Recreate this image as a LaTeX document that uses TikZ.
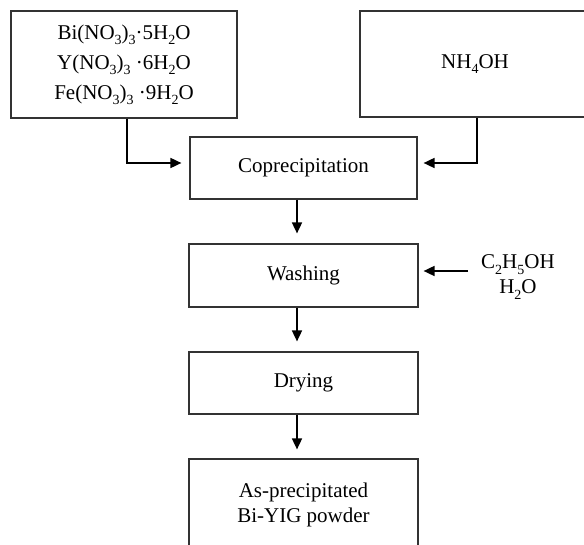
\documentclass[tikz,border=0pt]{standalone}
\usepackage{fontspec}
\setmainfont{Liberation Serif}
\usetikzlibrary{arrows.meta}
\newcommand\sbs[1]{\raisebox{-0.55ex}{\fontsize{14}{14}\selectfont #1}}
\begin{document}
\begin{tikzpicture}[x=1pt,y=-1pt,
 box/.style={draw=black!80, line width=1.2pt, rectangle, inner sep=0pt, align=center, font=\fontsize{21}{30}\selectfont},
 arr/.style={draw=black, line width=1.7pt, -{Triangle[length=11pt,width=10pt]}},
 lbl/.style={inner sep=0pt, align=center, font=\fontsize{21}{25}\selectfont}]
\useasboundingbox (0,0) rectangle (584,545);
\clip (0,0) rectangle (584,545);
\node[box, minimum width=226pt, minimum height=107pt] (A) at (124,64.5)
  {Bi(NO\sbs{3})\sbs{3}·5H\sbs{2}O\\
   Y(NO\sbs{3})\sbs{3} ·6H\sbs{2}O\\
   Fe(NO\sbs{3})\sbs{3} ·9H\sbs{2}O};
\node[box, minimum width=230pt, minimum height=106pt] (B) at (475,64) {NH\sbs{4}OH};
\node[box, minimum width=227pt, minimum height=62pt] (copr) at (303.5,168) {Coprecipitation};
\node[box, minimum width=229pt, minimum height=63pt] (wash) at (303.5,275.5) {Washing};
\node[box, minimum width=229pt, minimum height=62pt] (dry) at (303.5,383) {Drying};
\node[box, minimum width=229pt, minimum height=92pt, font=\fontsize{21}{25}\selectfont] (fin) at (303.5,505) {As-precipitated\\Bi-YIG powder};
\node[lbl, anchor=west] (solv) at (481,277) {C\sbs{2}H\sbs{5}OH\\H\sbs{2}O};
\draw[arr, shorten >=8pt] ([xshift=3pt]A.south) |- ([yshift=5pt]copr.west);
\draw[arr, shorten >=6pt] ([xshift=2pt]B.south) |- ([yshift=5pt]copr.east);
\draw[arr, shorten >=10pt] ([xshift=-6.5pt]copr.south) -- ([xshift=-6.5pt]wash.north);
\draw[arr, shorten >=10pt] ([xshift=-6.5pt]wash.south) -- ([xshift=-6.5pt]dry.north);
\draw[arr, shorten >=9pt] ([xshift=-6.5pt]dry.south) -- ([xshift=-6.5pt]fin.north);
\draw[arr, shorten <=13pt, shorten >=5pt] ([yshift=6pt]solv.west) -- ([yshift=4.5pt]wash.east);
\end{tikzpicture}
\end{document}
